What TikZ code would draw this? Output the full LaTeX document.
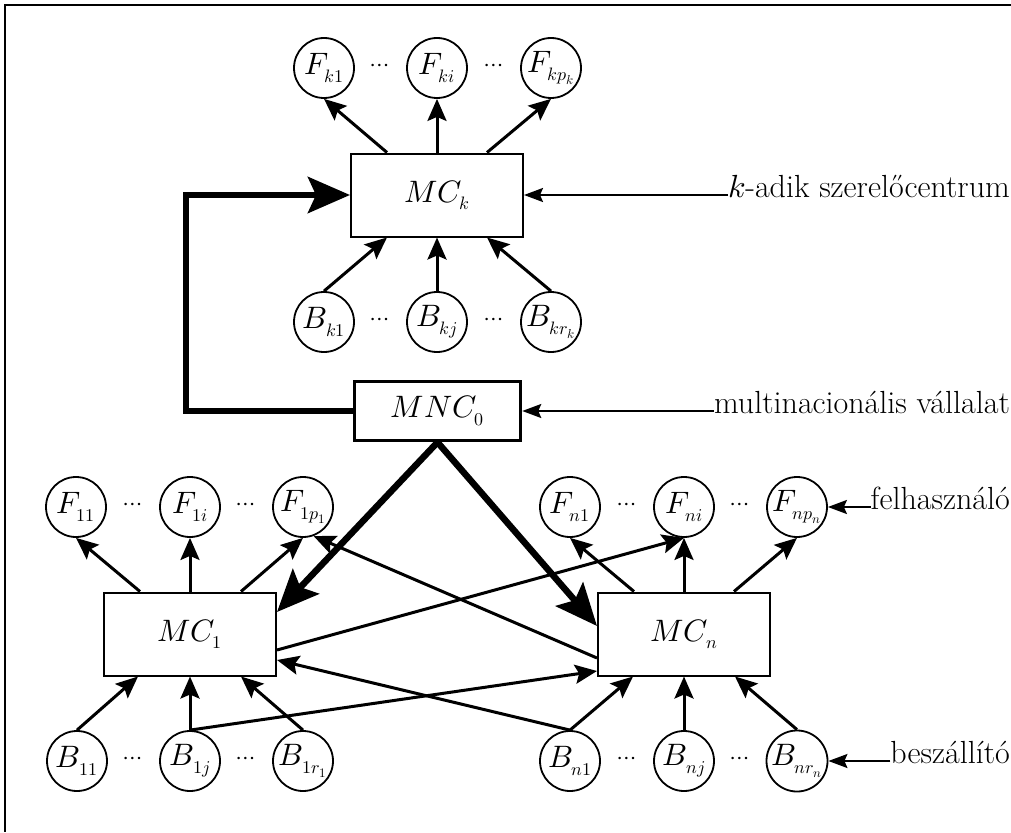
\documentclass[tikz,border=0pt]{standalone}
\usepackage{unicode-math}
\usetikzlibrary{arrows.meta}
\DeclareMathSizes{31}{31}{18}{13}
\tikzset{
  circ/.style={circle, draw, line width=1.8pt, minimum size=60pt, inner sep=0pt, font=\fontsize{31}{34}\selectfont},
  box/.style={rectangle, draw, line width=2pt, minimum width=172pt, minimum height=83pt, inner sep=0pt, font=\fontsize{31}{34}\selectfont},
  mncbox/.style={box, line width=3.5pt, minimum width=166pt, minimum height=59pt},
  conn/.style={line width=3pt, -{Stealth[length=22pt,width=19pt,inset=4pt]}},
  thickconn/.style={line width=6.5pt, -{Stealth[length=42pt,width=36pt,inset=8pt]}},
  lab/.style={font=\fontsize{32}{36}\selectfont, inner sep=0pt, anchor=mid east},
  labconn/.style={line width=2pt, -{Stealth[length=19pt,width=14pt,inset=3pt]}},
  dotsnode/.style={font=\fontsize{24}{26}\selectfont, inner sep=0pt}
}
\begin{document}
\begin{tikzpicture}[x=1pt,y=-1pt]
\useasboundingbox (0,0) rectangle (1011,832);
\draw[line width=1.5pt] (1011,5) -- (5,5) -- (5,832);

% top cluster
\node[circ] (fk1) at (324,68) {$F_{k1}$};
\node[circ] (fki) at (437,68) {$F_{ki}$};
\node[circ] (fkp) at (551,68) {$F_{kp_k}$};
\node[dotsnode] (dk1) at (380,68) {$\cdots$};
\node[dotsnode] (dk2) at (494,68) {$\cdots$};
\node[box] (mck) at (437,195) {$MC_k$};
\node[circ] (bk1) at (324,322) {$B_{k1}$};
\node[circ] (bkj) at (437,322) {$B_{kj}$};
\node[circ] (bkr) at (551,322) {$B_{kr_k}$};
\node[dotsnode] (dk3) at (380,322) {$\cdots$};
\node[dotsnode] (dk4) at (494,322) {$\cdots$};
\node[mncbox] (mnc) at (437.5,411) {$MNC_0$};

% bottom F row
\node[circ] (f11) at (76,507) {$F_{11}$};
\node[circ] (f1i) at (190,507) {$F_{1i}$};
\node[circ] (f1p) at (303,507) {$F_{1p_1}$};
\node[circ] (fn1) at (570,507) {$F_{n1}$};
\node[circ] (fni) at (684,507) {$F_{ni}$};
\node[circ] (fnp) at (797,507) {$F_{np_n}$};
\node[dotsnode] (d1) at (133,507) {$\cdots$};
\node[dotsnode] (d2) at (246,507) {$\cdots$};
\node[dotsnode] (d3) at (627,507) {$\cdots$};
\node[dotsnode] (d4) at (740,507) {$\cdots$};

% MC boxes
\node[box] (mc1) at (190,634) {$MC_1$};
\node[box] (mcn) at (684,634) {$MC_n$};

% bottom B row
\node[circ] (b11) at (77,761) {$B_{11}$};
\node[circ] (b1j) at (190,761) {$B_{1j}$};
\node[circ] (b1r) at (303,761) {$B_{1r_1}$};
\node[circ] (bn1) at (570,761) {$B_{n1}$};
\node[circ] (bnj) at (684,761) {$B_{nj}$};
\node[circ] (bnr) at (797,761) {$B_{nr_n}$};
\node[dotsnode] (d5) at (133,761) {$\cdots$};
\node[dotsnode] (d6) at (246,761) {$\cdots$};
\node[dotsnode] (d7) at (627,761) {$\cdots$};
\node[dotsnode] (d8) at (740,761) {$\cdots$};

% labels
\node[lab] (lk) at (1010,195) {$k$-adik szerelőcentrum};
\node[lab] (lm) at (1010,411) {multinacionális vállalat};
\node[lab] (lf) at (1010,507) {felhasználó};
\node[lab] (lb) at (1010,761) {beszállító};
\draw[labconn] (lk.mid west) -- (mck.east);
\draw[labconn] (lm.mid west) -- (mnc.east);
\draw[labconn] (lf.mid west) -- (fnp.east);
\draw[labconn] (lb.mid west) -- (bnr.east);

% top cluster connectors
\draw[conn] ([xshift=-50pt]mck.north) -- (fk1.south);
\draw[conn] (mck.north) -- (fki.south);
\draw[conn] ([xshift=50pt]mck.north) -- (fkp.south);
\draw[conn] (bk1.north) -- ([xshift=-50pt]mck.south);
\draw[conn] (bkj.north) -- (mck.south);
\draw[conn] (bkr.north) -- ([xshift=50pt]mck.south);

% MC1 connectors
\draw[conn] ([xshift=-50pt]mc1.north) -- (f11.south);
\draw[conn] (mc1.north) -- (f1i.south);
\draw[conn] ([xshift=51pt]mc1.north) -- (f1p.south);
\draw[conn] (b11.north) -- ([xshift=-52pt]mc1.south);
\draw[conn] (b1j.north) -- (mc1.south);
\draw[conn] (b1r.north) -- ([xshift=51pt]mc1.south);

% MCn connectors
\draw[conn] ([xshift=-50pt]mcn.north) -- (fn1.south);
\draw[conn] (mcn.north) -- (fni.south);
\draw[conn] ([xshift=50pt]mcn.north) -- (fnp.south);
\draw[conn] (bn1.north) -- ([xshift=-51pt]mcn.south);
\draw[conn] (bnj.north) -- (mcn.south);
\draw[conn] (bnr.north) -- ([xshift=51pt]mcn.south);

% crossing connectors
\draw[conn] ([yshift=-16pt]mc1.east) -- (fni.south);
\draw[conn] ([yshift=-24pt]mcn.west) -- (f1p.-70);
\draw[conn] (bn1.north) -- ([yshift=-26pt]mc1.east);
\draw[conn] (b1j.north) -- ([yshift=-37pt]mcn.west);

% thick connectors
\draw[thickconn] (mnc.west) -- ++(-167,0) |- (mck.west);
\draw[thickconn] (mnc.south) -- ([yshift=22pt]mc1.east);
\draw[thickconn] (mnc.south) -- ([yshift=8pt]mcn.west);
\end{tikzpicture}
\end{document}
